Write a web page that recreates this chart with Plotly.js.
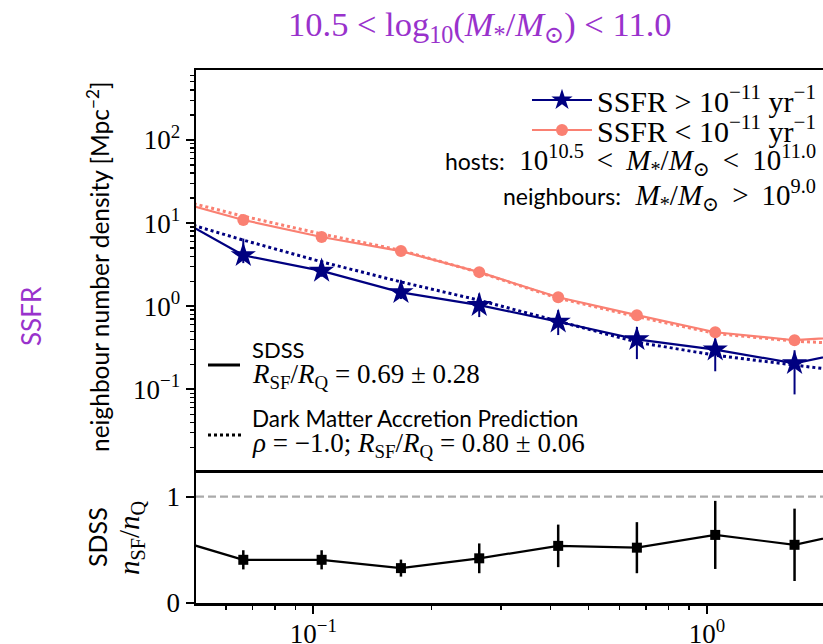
<!DOCTYPE html>
<html>
<head>
<meta charset="utf-8">
<script src="https://cdn.plot.ly/plotly-3.0.1.min.js"></script>
<style>html,body{margin:0;padding:0;background:#fff;}#chart{width:823px;height:644px;}</style>
</head>
<body>
<div id="chart"></div>
<script>
// projected separation bin centres [Mpc]
const rp = [0.0419, 0.0664, 0.105, 0.167, 0.264, 0.419, 0.664, 1.05, 1.67, 2.64];

// SDSS, star forming hosts (SSFR > 1e-11)
const sfDensity = [13.9, 4.1, 2.66, 1.47, 1.03, 0.65, 0.40, 0.30, 0.206, 0.32];
const sfErrUp   = [3.0, 2.4, 0.9, 0.58, 0.39, 0.245, 0.163, 0.11, 0.089, 0.1];
const sfErrDown = [2.0, 0.8, 0.4, 0.25, 0.29, 0.20, 0.169, 0.135, 0.119, 0.1];

// SDSS, quiescent hosts (SSFR < 1e-11)
const qDensity = [20.0, 10.9, 6.8, 4.6, 2.57, 1.28, 0.78, 0.486, 0.39, 0.45];
const qErr     = [1.0, 0.5, 0.3, 0.2, 0.1, 0.05, 0.04, 0.03, 0.03, 0.03];

// Dark matter accretion prediction
const sfModel = [11.9, 6.24, 3.42, 1.96, 1.18, 0.66, 0.37, 0.257, 0.195, 0.15];
const qModel  = [21.0, 12.1, 7.4, 4.7, 2.55, 1.25, 0.75, 0.47, 0.38, 0.34];

// ratio n_SF / n_Q
const ratio    = [0.626, 0.406, 0.406, 0.328, 0.42, 0.537, 0.52, 0.64, 0.547, 0.71];
const ratioErr = [0.10, 0.09, 0.09, 0.08, 0.14, 0.20, 0.24, 0.32, 0.34, 0.30];

const yTickVals = [0.1, 1, 10, 100];
const yTickText = ['10<sup>−1</sup>', '10<sup>0</sup>', '10<sup>1</sup>', '10<sup>2</sup>'];
const xTickVals = [0.1, 1];
const xTickText = ['10<sup>−1</sup>', '10<sup>0</sup>'];

const NAVY = '#000080', SALMON = '#FA8072', PURPLE = '#9932CC';
const SERIF = 'Liberation Serif, DejaVu Serif, serif';
const SANS = 'Lato, DejaVu Sans, sans-serif';
const SP = '&nbsp;';
const RSP = '&nbsp;\u2009';

function minorLog(d0, d1) {
  const v = [];
  for (let d = d0; d <= d1; d++) for (let k = 2; k <= 9; k++) v.push(k * Math.pow(10, d));
  return v;
}

const traces = [
  {x: rp, y: qModel, xaxis: 'x2', yaxis: 'y', mode: 'lines', showlegend: false,
   line: {color: SALMON, width: 3, dash: 'dot'}},
  {x: rp, y: sfModel, xaxis: 'x2', yaxis: 'y', mode: 'lines', showlegend: false,
   line: {color: NAVY, width: 3, dash: 'dot'}},
  {x: rp, y: sfDensity, xaxis: 'x2', yaxis: 'y', mode: 'lines+markers', legend: 'legend',
   name: 'SSFR' + SP + '&gt;' + SP + '10<sup>−11</sup>' + SP + 'yr<sup>−1</sup>',
   line: {color: NAVY, width: 2.2}, marker: {symbol: 'star', size: 19, color: NAVY},
   error_y: {type: 'data', symmetric: false, array: sfErrUp, arrayminus: sfErrDown, color: NAVY, thickness: 2, width: 0}},
  {x: rp, y: qDensity, xaxis: 'x2', yaxis: 'y', mode: 'lines+markers', legend: 'legend2',
   name: 'SSFR' + SP + '&lt;' + SP + '10<sup>−11</sup>' + SP + 'yr<sup>−1</sup>',
   line: {color: SALMON, width: 2.2}, marker: {symbol: 'circle', size: 12, color: SALMON},
   error_y: {type: 'data', array: qErr, color: SALMON, thickness: 2, width: 0}},
  {x: rp, y: ratio, xaxis: 'x', yaxis: 'y2', mode: 'lines+markers', showlegend: false,
   line: {color: 'black', width: 2.2}, marker: {symbol: 'square', size: 10, color: 'black'},
   error_y: {type: 'data', array: ratioErr, color: 'black', thickness: 2.5, width: 0}}
];

function px2x(p) { return (p - 196) / 627; }
function px2y(p) { return (603 - p) / 533; }

const ann = (text, xp, yp, opts) => Object.assign({
  text: text, xref: 'paper', yref: 'paper', x: px2x(xp), y: px2y(yp),
  showarrow: false, xanchor: 'left', yanchor: 'middle',
  font: {family: SERIF, size: 27, color: 'black'}
}, opts || {});

const sansSpan = t => '<span style="font-family:Lato, DejaVu Sans, sans-serif;font-size:23px">' + t + '</span>';
const Mstar = '<i>M</i><sub>*</sub>/<i>M</i><sub>⊙</sub>';

const annotations = [
  ann('10.5' + SP + '&lt;' + SP + 'log<sub>10</sub>(' + Mstar + ')' + SP + '&lt;' + SP + '11.0', 480, 27,
      {xanchor: 'center', font: {family: SERIF, size: 34.5, color: PURPLE}}),
  ann('SSFR', 31, 316, {xanchor: 'center', textangle: -90, font: {family: SANS, size: 26, color: PURPLE}}),
  ann('neighbour number density [Mpc<sup>−2</sup>]', 98, 267, {xanchor: 'center', textangle: -90, font: {family: SANS, size: 24.5, color: 'black'}}),
  ann('SDSS', 97, 537, {xanchor: 'center', textangle: -90, font: {family: SANS, size: 25, color: 'black'}}),
  ann('<i>n</i><sub>SF</sub>/<i>n</i><sub>Q</sub>', 131, 538, {xanchor: 'center', textangle: -90, font: {family: SERIF, size: 29, color: 'black'}}),
  ann(sansSpan('hosts:') + SP + SP + '10<sup>10.5</sup>' + RSP + '&lt;' + RSP + Mstar + RSP + '&lt;' + RSP + '10<sup>11.0</sup>', 818, 160,
      {xanchor: 'right', font: {family: SERIF, size: 29, color: 'black'}}),
  ann(sansSpan('neighbours:') + SP + SP + Mstar + RSP + '&gt;' + RSP + '10<sup>9.0</sup>', 818, 195,
      {xanchor: 'right', font: {family: SERIF, size: 29, color: 'black'}}),
  ann('SDSS', 250, 349, {font: {family: SANS, size: 22, color: 'black'}}),
  ann('<i>R</i><sub>SF</sub>/<i>R</i><sub>Q</sub>' + SP + '=' + SP + '0.69' + SP + '±' + SP + '0.28', 250, 376),
  ann('Dark Matter Accretion Prediction', 250, 418, {font: {family: SANS, size: 22.5, color: 'black'}}),
  ann('<i>ρ</i>' + SP + '=' + SP + '−1.0;' + SP + '<i>R</i><sub>SF</sub>/<i>R</i><sub>Q</sub>' + SP + '=' + SP + '0.80' + SP + '±' + SP + '0.06', 250, 445)
];

const shapes = [
  {type: 'line', xref: 'paper', yref: 'y2', x0: 0, x1: 1, y0: 1, y1: 1,
   line: {color: '#aaaaaa', width: 2.2, dash: '8px,4px'}},
  {type: 'line', xref: 'paper', yref: 'paper', x0: px2x(208), x1: px2x(240), y0: px2y(365), y1: px2y(365),
   line: {color: 'black', width: 3}},
  {type: 'line', xref: 'paper', yref: 'paper', x0: px2x(208), x1: px2x(242), y0: px2y(435), y1: px2y(435),
   line: {color: 'black', width: 3, dash: 'dot'}}
];

const legendBase = {xanchor: 'right', yanchor: 'middle', bgcolor: 'rgba(0,0,0,0)', borderwidth: 0,
                    font: {family: SERIF, size: 30, color: 'black'}, itemwidth: 60, tracegroupgap: 0};

const xr = [-1.298, 0.295];
const layout = {
  width: 823, height: 644,
  margin: {l: 196, r: 0, t: 70, b: 41, pad: 0},
  paper_bgcolor: 'white', plot_bgcolor: 'white',
  showlegend: true,
  legend: Object.assign({}, legendBase, {x: px2x(821), y: px2y(100)}),
  legend2: Object.assign({}, legendBase, {x: px2x(821), y: px2y(130)}),
  xaxis: {type: 'log', range: xr, anchor: 'y2', domain: [0, 1],
          showline: true, linecolor: 'black', linewidth: 2.5, mirror: false,
          showgrid: false, zeroline: false,
          tickmode: 'array', tickvals: xTickVals, ticktext: xTickText,
          ticks: 'outside', ticklen: 8, tickwidth: 2.2, tickcolor: 'black',
          ticklabelstandoff: -3,
          tickfont: {family: SERIF, size: 27, color: 'black'},
          minor: {tickmode: 'array', tickvals: minorLog(-2, 0), ticks: 'outside', ticklen: 4, tickwidth: 1.3, tickcolor: 'black', showgrid: false}},
  xaxis2: {type: 'log', range: xr, matches: 'x', anchor: 'y', domain: [0, 1],
           showline: true, linecolor: 'black', linewidth: 2.5, mirror: true,
           showgrid: false, zeroline: false, ticks: '', showticklabels: false},
  yaxis: {type: 'log', range: [-1.970, 2.841], domain: [0.2495, 1], anchor: 'x2',
          showline: true, linecolor: 'black', linewidth: 2.5,
          showgrid: false, zeroline: false,
          tickmode: 'array', tickvals: yTickVals, ticktext: yTickText,
          ticks: 'outside', ticklen: 8, tickwidth: 2.2, tickcolor: 'black',
          tickfont: {family: SERIF, size: 27, color: 'black'},
          minor: {tickmode: 'array', tickvals: minorLog(-2, 2), ticks: 'outside', ticklen: 4, tickwidth: 1.3, tickcolor: 'black', showgrid: false}},
  yaxis2: {range: [0, 1.25], domain: [0, 0.2495], anchor: 'x',
           showline: true, linecolor: 'black', linewidth: 2.5,
           showgrid: false, zeroline: false,
           tickmode: 'array', tickvals: [0, 1], ticktext: ['0', '1'],
           ticks: 'outside', ticklen: 8, tickwidth: 2.2, tickcolor: 'black',
           tickfont: {family: SERIF, size: 27, color: 'black'}},
  annotations: annotations,
  shapes: shapes
};

Plotly.newPlot('chart', traces, layout, {displayModeBar: false, staticPlot: true});
</script>
</body>
</html>
